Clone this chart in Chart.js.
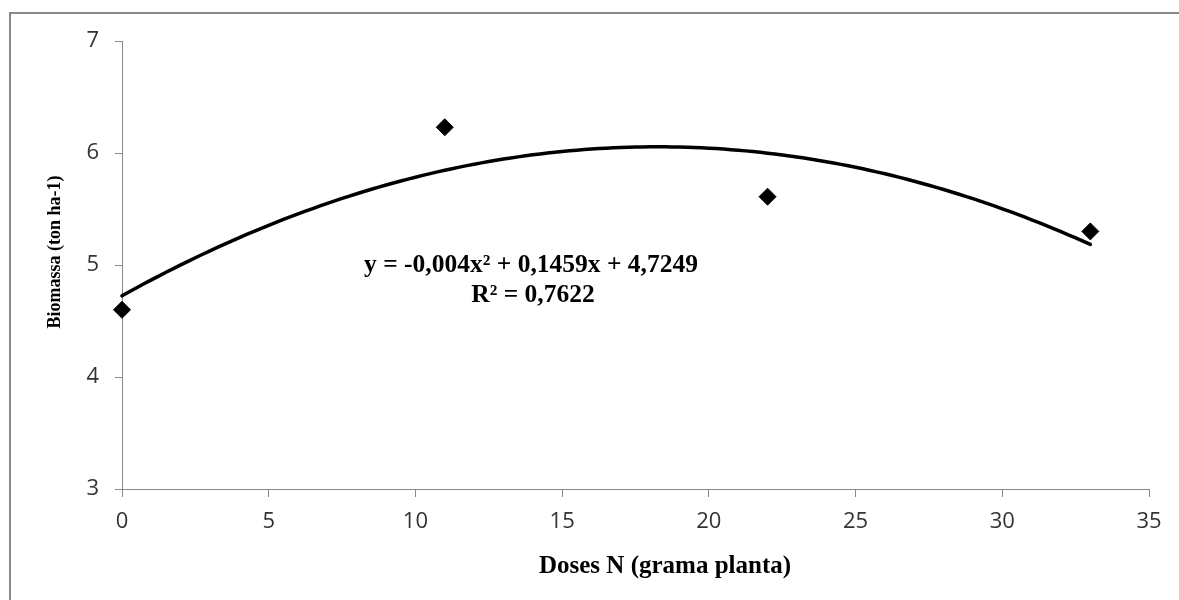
<!DOCTYPE html>
<html>
<head>
<meta charset="utf-8">
<script src="https://cdn.jsdelivr.net/npm/chart.js@4.4.1/dist/chart.umd.min.js"></script>
<style>
  html, body { margin: 0; padding: 0; background: #ffffff; overflow: hidden; }
  #wrap { width: 1179px; height: 600px; position: relative; }
  #chart { display: block; }
</style>
</head>
<body>
<div id="wrap"><canvas id="chart" width="1179" height="600"></canvas></div>
<script>
// Observed biomass per N dose
const doses = [0, 11, 22, 33];
const biomassa = [4.6, 6.23, 5.61, 5.3];

// Axis ticks
const xTicks = [0, 5, 10, 15, 20, 25, 30, 35];
const yTicks = [3, 4, 5, 6, 7];

// Quadratic trendline as printed on the chart: y = a x² + b x + c
const trendCoef = [-0.004, 0.1459, 4.7249];
const trendRange = [0, 33];
const eqLines = ['y = -0,004x² + 0,1459x + 4,7249', 'R² = 0,7622'];

const xTitle = 'Doses N (grama planta)';
const yTitle = 'Biomassa (ton ha-1)';

// Trendline samples evaluated from the printed coefficients
const trendPts = [];
for (let i = 0; i <= 132; i++) {
  const x = trendRange[0] + (trendRange[1] - trendRange[0]) * i / 132;
  trendPts.push({ x, y: trendCoef[0] * x * x + trendCoef[1] * x + trendCoef[2] });
}

const axisGray = '#898989';
const tickFont = { family: '"Open Sans", sans-serif', size: 22 };

// Outer frame, axis titles and equation text
const decor = {
  id: 'decor',
  beforeDraw(chart) {
    const ctx = chart.ctx;
    ctx.save();
    ctx.fillStyle = '#ffffff';
    ctx.fillRect(0, 0, chart.width, chart.height);
    ctx.strokeStyle = axisGray;
    ctx.lineWidth = 2;
    ctx.strokeRect(10, 13, chart.width + 20, chart.height + 20);
    ctx.restore();
  },
  afterDraw(chart) {
    const ctx = chart.ctx;
    const a = chart.chartArea;
    ctx.save();
    ctx.fillStyle = '#000000';
    ctx.textAlign = 'center';
    ctx.textBaseline = 'middle';

    // x-axis title
    ctx.font = 'bold 25px "Liberation Serif", "Times New Roman", serif';
    ctx.fillText(xTitle, a.left + 543, a.bottom + 78);

    // y-axis title
    ctx.save();
    ctx.translate(a.left - 67, a.top + 211);
    ctx.rotate(-Math.PI / 2);
    ctx.font = 'bold 18px "Liberation Serif", "Times New Roman", serif';
    ctx.fillText(yTitle, 0, 0);
    ctx.restore();

    // trendline equation
    ctx.font = 'bold 25.5px "Liberation Serif", "Times New Roman", serif';
    ctx.fillText(eqLines[0], a.left + 409, a.top + 224);
    ctx.fillText(eqLines[1], a.left + 411, a.top + 254);
    ctx.restore();
  }
};

new Chart(document.getElementById('chart'), {
  type: 'scatter',
  data: {
    datasets: [
      {
        label: 'Tendência',
        data: trendPts,
        showLine: true,
        borderColor: '#000000',
        borderWidth: 3.5,
        borderCapStyle: 'round',
        pointRadius: 0,
        pointHoverRadius: 0,
        tension: 0,
        clip: false,
        order: 2
      },
      {
        label: 'Biomassa',
        data: doses.map((d, i) => ({ x: d, y: biomassa[i] })),
        pointStyle: 'rectRot',
        pointRadius: 8.5,
        pointBackgroundColor: '#000000',
        pointBorderColor: '#000000',
        pointBorderWidth: 1,
        showLine: false,
        clip: false,
        order: 1
      }
    ]
  },
  plugins: [decor],
  options: {
    responsive: false,
    animation: false,
    devicePixelRatio: 1,
    layout: { padding: { left: 0, right: 30, top: 41, bottom: 0 } },
    plugins: {
      legend: { display: false },
      tooltip: { enabled: false },
      title: { display: false }
    },
    scales: {
      x: {
        type: 'linear',
        min: xTicks[0],
        max: xTicks[xTicks.length - 1],
        afterBuildTicks: s => { s.ticks = xTicks.map(v => ({ value: v })); },
        afterFit: s => { s.height = 111; },
        ticks: { color: '#333333', font: tickFont, padding: 12, maxRotation: 0 },
        grid: { drawOnChartArea: false, drawTicks: true, tickLength: 8, color: axisGray, lineWidth: 1 },
        border: { display: true, color: axisGray, width: 1 }
      },
      y: {
        type: 'linear',
        min: yTicks[0],
        max: yTicks[yTicks.length - 1],
        afterBuildTicks: s => { s.ticks = yTicks.map(v => ({ value: v })); },
        afterFit: s => { s.width = 122; },
        ticks: { color: '#333333', font: tickFont, padding: 16 },
        grid: { drawOnChartArea: false, drawTicks: true, tickLength: 7, color: axisGray, lineWidth: 1 },
        border: { display: true, color: axisGray, width: 1 }
      }
    }
  }
});
</script>
</body>
</html>
